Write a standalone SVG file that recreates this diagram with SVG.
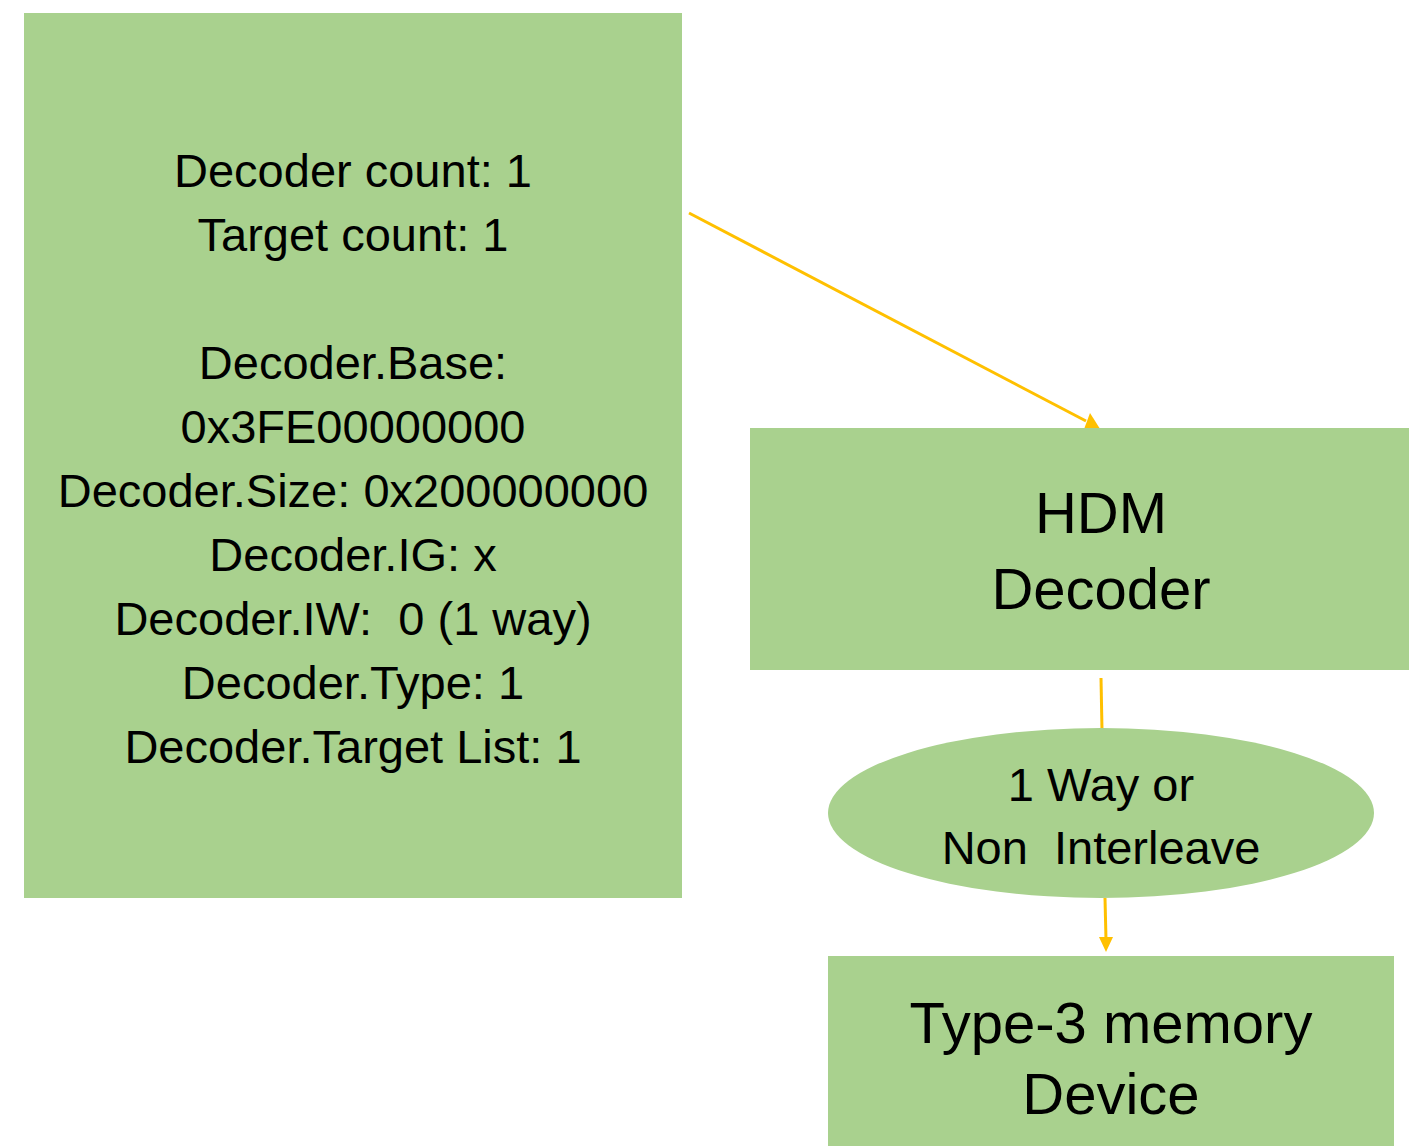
<svg xmlns="http://www.w3.org/2000/svg" width="1409" height="1146" viewBox="0 0 1409 1146">
<style>
.box{fill:#A9D18E}
.t{font-family:"Liberation Sans",Arial,sans-serif;fill:#000;text-anchor:middle}
.s{font-size:47px}
.b{font-size:58px}
.c{stroke:#FFC000;stroke-width:3;fill:none}
.h{fill:#FFC000}
</style>
<rect width="1409" height="1146" fill="#fff"/>
<g id="connectors">
<line class="c" x1="689" y1="213" x2="1086" y2="421"/>
<polygon class="h" points="1090,413 1083,432 1102,432"/>
<line class="c" x1="1101" y1="678" x2="1102" y2="730"/>
<line class="c" x1="1105" y1="898" x2="1106" y2="940"/>
<polygon class="h" points="1099,937 1113,937 1106,952"/>
</g>
<g id="config">
<rect class="box" x="24" y="13" width="658" height="885"/>
<text class="t s" x="353" y="187">Decoder count: 1</text>
<text class="t s" x="353" y="251">Target count: 1</text>
<text class="t s" x="353" y="379">Decoder.Base:</text>
<text class="t s" x="353" y="443">0x3FE00000000</text>
<text class="t s" x="353" y="507">Decoder.Size: 0x200000000</text>
<text class="t s" x="353" y="571">Decoder.IG: x</text>
<text class="t s" x="353" y="635" xml:space="preserve">Decoder.IW:  0 (1 way)</text>
<text class="t s" x="353" y="699">Decoder.Type: 1</text>
<text class="t s" x="353" y="763">Decoder.Target List: 1</text>
</g>
<g id="hdm">
<rect class="box" x="750" y="428" width="659" height="242"/>
<text class="t b" x="1101" y="533">HDM</text>
<text class="t b" x="1101" y="609">Decoder</text>
</g>
<g id="interleave">
<ellipse class="box" cx="1101" cy="813" rx="273" ry="85"/>
<text class="t s" x="1101" y="801">1 Way or</text>
<text class="t s" x="1101" y="864" xml:space="preserve">Non  Interleave</text>
</g>
<g id="device">
<rect class="box" x="828" y="956" width="566" height="190"/>
<text class="t b" x="1111" y="1043">Type-3 memory</text>
<text class="t b" x="1111" y="1114">Device</text>
</g>
</svg>
